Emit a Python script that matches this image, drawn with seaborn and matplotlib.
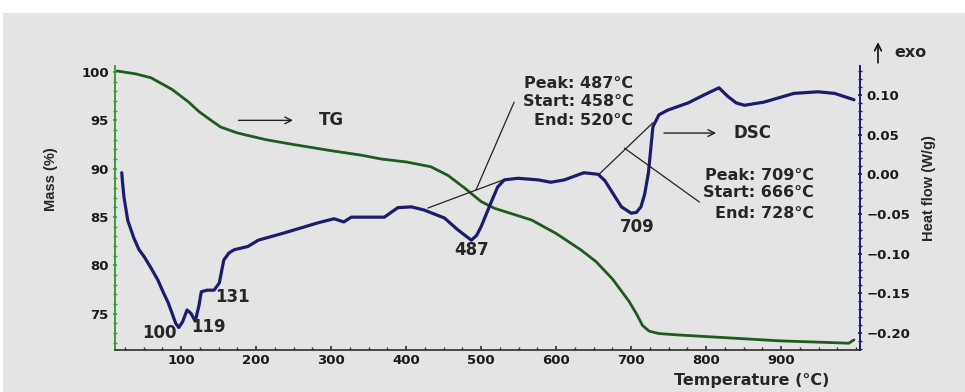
import numpy as np
import pandas as pd
import matplotlib.pyplot as plt
import seaborn as sns
from matplotlib.ticker import MultipleLocator
from matplotlib.patches import Rectangle

# TG curve, mass (%) vs temperature
tg_temp = [15, 40, 60, 88, 110, 124, 140, 153, 175, 213, 250, 297, 340, 367, 400, 433,
           456, 478, 500, 518, 567, 600, 633, 653, 675, 697, 707, 715, 724, 737, 764,
           831, 897, 973, 990, 997]
tg_mass = [100.1, 99.8, 99.4, 98.2, 96.9, 95.9, 95.0, 94.3, 93.7, 93.0, 92.5, 91.9, 91.4,
           91.0, 90.7, 90.2, 89.3, 88.0, 86.6, 85.9, 84.7, 83.3, 81.6, 80.4, 78.6, 76.3,
           75.0, 73.8, 73.2, 72.95, 72.8, 72.5, 72.2, 72.0, 71.95, 72.3]

# DSC curve, heat flow (W/g) vs temperature
dsc_temp = [21, 22, 24, 29, 37, 44, 51, 60, 69, 76, 83, 88, 93, 97, 102, 108, 113, 119,
            124, 127, 135, 144, 151, 157, 164, 171, 189, 203, 237, 283, 304, 317, 327, 344,
            371, 389, 407, 424, 451, 469, 480, 487, 494, 500, 513, 522, 531, 549, 576, 593,
            611, 637, 656, 665, 673, 687, 700, 707, 713, 718, 723, 729, 737, 749, 776, 797,
            817, 829, 840, 851, 877, 917, 949, 971, 997]
dsc_heat = [0.002, -0.010, -0.029, -0.058, -0.080, -0.095, -0.104, -0.118, -0.133, -0.148,
            -0.162, -0.175, -0.188, -0.193, -0.186, -0.171, -0.175, -0.185, -0.165, -0.148,
            -0.146, -0.146, -0.137, -0.108, -0.099, -0.095, -0.091, -0.083, -0.074, -0.061,
            -0.056, -0.060, -0.054, -0.054, -0.054, -0.042, -0.041, -0.045, -0.055, -0.070,
            -0.078, -0.083, -0.077, -0.066, -0.036, -0.016, -0.007, -0.005, -0.007, -0.010,
            -0.007, 0.002, 0.000, -0.008, -0.020, -0.041, -0.049, -0.048, -0.041, -0.025,
            0.002, 0.060, 0.075, 0.081, 0.090, 0.100, 0.109, 0.098, 0.090, 0.087, 0.091,
            0.102, 0.104, 0.102, 0.094]

# tangent / leader lines of the two events (temperature, heat flow)
base1_t = [429, 531]
base1_h = [-0.0425, -0.0065]
lead1_t = [544, 493]
lead1_h = [0.091, -0.020]
base2_t = [656, 729]
base2_h = [-0.001, 0.065]
lead2_t = [691, 791]
lead2_h = [0.033, -0.035]

# peak labels
peak_lbl = ["100", "119", "131", "487", "709"]
peak_t = [71, 136, 169, 488, 708]
peak_h = [-0.200, -0.192, -0.155, -0.095, -0.066]

info1 = ["Peak: 487°C", "Start: 458°C", "End: 520°C"]
info2 = ["Peak: 709°C", "Start: 666°C", "End: 728°C"]

tg = pd.DataFrame({"temp": tg_temp, "mass": tg_mass})
dsc = pd.DataFrame({"temp": dsc_temp, "heat": dsc_heat})

sns.set_theme(style="ticks")
plt.rcParams["font.family"] = ["DejaVu Sans"]

green = "#1f5a1f"
navy = "#1c1c6e"

fig = plt.figure(figsize=(9.65, 3.92), dpi=100)
fig.patch.set_facecolor("white")
fig.patches.append(Rectangle((3 / 965, 0), 1, 1 - 13 / 392, transform=fig.transFigure,
                             facecolor="#e4e4e4", edgecolor="none", zorder=-10))

ax = fig.add_axes([115 / 965, 1 - 350 / 392, 745 / 965, 284 / 392])
ax2 = ax.twinx()
ax.set_facecolor("none")
ax2.set_facecolor("none")

sns.lineplot(data=tg, x="temp", y="mass", ax=ax, color=green, lw=2,
             sort=False, estimator=None)
sns.lineplot(data=dsc, x="temp", y="heat", ax=ax2, color=navy, lw=2.3,
             sort=False, estimator=None)

for xs, ys in [(base1_t, base1_h), (lead1_t, lead1_h), (base2_t, base2_h), (lead2_t, lead2_h)]:
    ax2.plot(xs, ys, color="#222222", lw=0.9)

ax.set_xlim(12, 1005)
ax.set_ylim(71.25, 100.62)
ax2.set_ylim(-0.2214, 0.1365)

ax.xaxis.set_minor_locator(MultipleLocator(25))
ax.yaxis.set_major_locator(MultipleLocator(5))
ax.yaxis.set_minor_locator(MultipleLocator(1))
ax2.yaxis.set_minor_locator(MultipleLocator(0.01))
ax.set_xticks(range(100, 1000, 100))
ax2.set_yticks([0.10, 0.05, 0.00, -0.05, -0.10, -0.15, -0.20])
ax2.set_yticklabels(["0.10", "0.05", "0.00", "\u22120.05", "\u22120.10", "\u22120.15", "\u22120.20"])

for a in (ax, ax2):
    a.spines["top"].set_visible(False)
    a.tick_params(labelsize=9.5, pad=3)
    for lab in a.get_xticklabels() + a.get_yticklabels():
        lab.set_fontweight("bold")
        lab.set_color("#1a1a1a")
ax.spines["left"].set_color("#3c9a3c")
ax.spines["left"].set_linewidth(1.4)
ax2.spines["left"].set_visible(False)
ax2.spines["right"].set_color(navy)
ax2.spines["right"].set_linewidth(1.4)
ax.spines["right"].set_visible(False)
ax.spines["bottom"].set_color("#333333")
ax2.spines["bottom"].set_visible(False)
ax.tick_params(axis="x", which="major", direction="in", length=3, color="#333333")
ax.tick_params(axis="x", which="minor", direction="in", length=2, color="#333333")
ax.tick_params(axis="y", which="both", direction="inout", length=3, color="#3c9a3c")
ax2.tick_params(axis="y", which="both", direction="inout", length=3, color=navy)

ax.set_xlabel("Temperature (°C)", fontsize=11.5, fontweight="bold")
ax.xaxis.label.set_va("center")
ax.xaxis.set_label_coords(0.855, -0.106)
ax.set_ylabel("Mass (%)", fontsize=10.5, fontweight="bold", family=["Liberation Sans", "DejaVu Sans"])
ax.yaxis.label.set_va("center")
ax.yaxis.set_label_coords(-0.086, 0.6)
ax2.set_ylabel("Heat flow (W/g)", fontsize=10.5, fontweight="bold",
               family=["Liberation Sans", "DejaVu Sans"])
ax2.yaxis.label.set_va("center")
ax2.yaxis.set_label_coords(1.093, 0.57)

# event boxes
for i, s in enumerate(info1):
    ax2.text(703, [0.115, 0.092, 0.068][i], s, ha="right", va="center",
             fontsize=11.5, fontweight="bold")
for i, s in enumerate(info2):
    ax2.text(944, [-0.001, -0.0235, -0.049][i], s, ha="right", va="center",
             fontsize=11.5, fontweight="bold")

for s, t, h in zip(peak_lbl, peak_t, peak_h):
    ax2.text(t, h, s, ha="center", va="center", fontsize=12, fontweight="bold")

# curve names with arrows
ax2.annotate("", xy=(253, 0.068), xytext=(173, 0.068),
             arrowprops=dict(arrowstyle="->", color="#222222", lw=1))
ax2.text(284, 0.068, "TG", ha="left", va="center", fontsize=12, fontweight="bold")
ax2.annotate("", xy=(817, 0.052), xytext=(740, 0.052),
             arrowprops=dict(arrowstyle="->", color="#222222", lw=1))
ax2.text(837, 0.052, "DSC", ha="left", va="center", fontsize=12, fontweight="bold")
ax2.annotate("", xy=(1029, 0.170), xytext=(1029, 0.137),
             arrowprops=dict(arrowstyle="->", color="#111111", lw=1.2), annotation_clip=False)
ax2.text(1051, 0.153, "exo", ha="left", va="center", fontsize=11.5, fontweight="bold",
         clip_on=False)

fig.savefig("out.png", dpi=100, facecolor=fig.get_facecolor())
